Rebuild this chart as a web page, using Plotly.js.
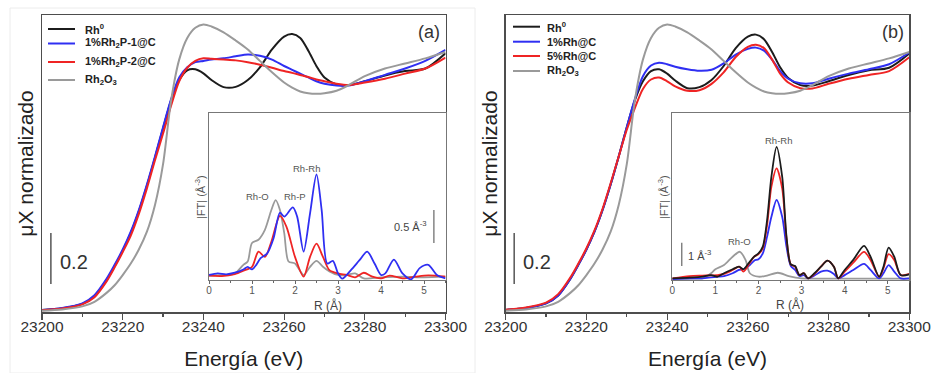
<!DOCTYPE html>
<html><head><meta charset="utf-8">
<script src="https://cdn.plot.ly/plotly-3.0.1.min.js"></script>
<style>body{margin:0;background:#fff}#chart{width:933px;height:373px}</style>
</head><body><div id="chart"></div>
<script>
// ---------- XANES (main panels) ----------
const energy = [23200,23205,23210,23213,23216,23218,23220,23222,23224,23226,23228,23230,23232,23234,23236,23238,23240,23242,23245,23248,23251,23254,23257,23260,23262,23264,23266,23268,23270,23273,23276,23280,23285,23290,23295,23300];
// panel (a)
const rh0A   = [0.008,0.015,0.032,0.062,0.125,0.18,0.24,0.31,0.395,0.495,0.605,0.72,0.83,0.91,0.948,0.952,0.936,0.91,0.882,0.883,0.91,0.96,1.03,1.08,1.09,1.075,1.025,0.965,0.92,0.893,0.89,0.905,0.928,0.945,0.955,1.015];
const rh2p1A = [0.008,0.016,0.034,0.066,0.13,0.185,0.245,0.315,0.40,0.50,0.61,0.725,0.835,0.92,0.96,0.98,0.985,0.99,0.995,1.003,1.01,1.005,0.99,0.965,0.95,0.935,0.92,0.905,0.895,0.888,0.888,0.905,0.93,0.955,0.985,1.028];
const rh2p2A = [0.007,0.014,0.030,0.058,0.12,0.175,0.235,0.30,0.385,0.485,0.595,0.70,0.81,0.905,0.958,0.985,0.995,0.993,0.99,0.987,0.98,0.97,0.958,0.945,0.938,0.93,0.922,0.912,0.905,0.895,0.89,0.90,0.915,0.935,0.955,0.998];
const rh2o3A = [0.005,0.01,0.022,0.04,0.075,0.105,0.145,0.19,0.245,0.315,0.42,0.58,0.83,0.99,1.075,1.115,1.128,1.12,1.097,1.065,1.03,0.985,0.94,0.90,0.88,0.865,0.858,0.856,0.858,0.868,0.89,0.925,0.955,0.975,0.995,1.02];
// panel (b)
const rh0B   = [0.008,0.016,0.034,0.065,0.13,0.185,0.245,0.315,0.40,0.50,0.61,0.725,0.83,0.905,0.945,0.952,0.935,0.908,0.878,0.882,0.91,0.965,1.035,1.08,1.088,1.07,1.02,0.96,0.918,0.89,0.888,0.905,0.93,0.948,0.958,1.014];
const rh1B   = [0.008,0.016,0.034,0.065,0.13,0.185,0.245,0.315,0.40,0.50,0.61,0.725,0.835,0.925,0.967,0.978,0.972,0.962,0.952,0.946,0.95,0.975,1.01,1.032,1.037,1.025,0.99,0.945,0.915,0.897,0.897,0.915,0.935,0.952,0.972,1.018];
const rh5B   = [0.009,0.018,0.037,0.07,0.135,0.19,0.25,0.32,0.405,0.505,0.61,0.715,0.80,0.875,0.912,0.92,0.905,0.885,0.868,0.87,0.895,0.94,1.00,1.04,1.048,1.035,0.99,0.935,0.90,0.878,0.877,0.895,0.915,0.93,0.945,0.999];
const rh2o3B = [0.005,0.01,0.022,0.04,0.075,0.105,0.145,0.19,0.245,0.315,0.42,0.58,0.83,0.99,1.075,1.115,1.128,1.12,1.097,1.065,1.03,0.985,0.94,0.90,0.88,0.865,0.858,0.856,0.858,0.868,0.89,0.925,0.955,0.975,0.995,1.02];

// ---------- EXAFS |FT| insets ----------
// inset (a)
const rBlueA  = [0,0.2,0.4,0.6,0.8,0.9,1.0,1.1,1.2,1.35,1.5,1.65,1.75,1.95,2.05,2.2,2.35,2.5,2.62,2.75,2.88,3.0,3.1,3.3,3.5,3.68,3.85,4.0,4.1,4.3,4.5,4.7,4.9,5.1,5.3,5.5];
const ftBlueA = [0.076,0.10,0.086,0.11,0.16,0.20,0.16,0.23,0.33,0.40,0.63,1.02,0.96,1.10,0.96,0.43,1.01,1.60,1.06,0.25,0.29,0.10,0.02,0.15,0.30,0.43,0.25,0.076,0.10,0.31,0.10,0.01,0.18,0.23,0.076,0.025];
const rRedA   = [0,0.3,0.6,0.8,1.0,1.15,1.3,1.45,1.65,1.8,2.0,2.2,2.35,2.5,2.65,2.8,3.0,3.2,3.4,3.6,3.8,4.0,4.2,4.5,4.8,5.1,5.5];
const ftRedA  = [0.066,0.06,0.09,0.14,0.20,0.43,0.35,0.58,0.97,0.81,0.35,0.05,0.35,0.55,0.35,0.15,0.10,0.076,0.04,0.11,0.05,0.025,0.066,0.025,0.05,0.07,0.05];
const rGreyA  = [0,0.4,0.6,0.8,0.9,1.0,1.15,1.3,1.45,1.55,1.65,1.75,1.85,2.0,2.2,2.35,2.5,2.65,2.8,3.0,3.2,3.4,3.6,4.0,4.5,5.0,5.5];
const ftGreyA = [0.066,0.076,0.10,0.23,0.28,0.56,0.61,0.76,1.06,1.21,1.06,0.71,0.28,0.25,0.076,0.20,0.29,0.20,0.13,0.076,0.076,0.10,0.025,0.04,0.05,0.04,0.05];
// inset (b)
const rB       = [0,0.4,0.7,0.9,1.05,1.2,1.4,1.55,1.65,1.8,1.9,2.0,2.1,2.2,2.3,2.42,2.55,2.65,2.75,2.85,2.95,3.05,3.15,3.3,3.45,3.6,3.75,3.85,4.0,4.2,4.45,4.6,4.8,4.9,5.02,5.15,5.3,5.5];
const ftBlackB = [0.07,0.10,0.14,0.21,0.14,0.29,0.46,0.57,0.46,0.79,1.0,1.14,1.43,2.57,4.43,5.71,4.43,1.86,0.67,0.60,0.21,0.29,0.07,0.29,0.57,0.83,0.57,0.07,0.43,0.86,1.46,1.0,0.14,0.57,1.39,1.0,0.21,0.24];
const ftRedB   = [0.07,0.17,0.19,0.20,0.21,0.26,0.43,0.57,0.36,0.74,1.0,1.11,1.36,2.36,4.0,4.79,3.93,1.79,0.67,0.57,0.21,0.29,0.07,0.26,0.57,0.83,0.57,0.07,0.36,0.74,1.21,0.86,0.14,0.50,1.11,0.86,0.21,0.26];
const ftBlueB  = [0.04,0.07,0.07,0.11,0.14,0.17,0.29,0.43,0.46,0.64,0.83,0.89,1.14,1.86,2.71,3.43,2.71,1.43,0.60,0.43,0.17,0.21,0.07,0.19,0.36,0.40,0.26,0.07,0.21,0.43,0.69,0.43,0.07,0.29,0.64,0.36,0.07,0.07];
const rGreyB   = [0,0.5,0.7,0.9,1.0,1.2,1.4,1.57,1.7,1.8,2.0,2.2,2.45,2.7,3.0,3.5,4.0,5.0,5.5];
const ftGreyB  = [0.04,0.06,0.07,0.29,0.46,0.64,1.0,1.21,0.86,0.29,0.14,0.19,0.31,0.17,0.07,0.06,0.06,0.06,0.06];

// labels
const namesA = ['Rh<sup>0</sup>','1%Rh<sub>2</sub>P-1@C','1%Rh<sub>2</sub>P-2@C','Rh<sub>2</sub>O<sub>3</sub>'];
const namesB = ['Rh<sup>0</sup>','1%Rh@C','5%Rh@C','Rh<sub>2</sub>O<sub>3</sub>'];
const energyTicks = [23200,23220,23240,23260,23280,23300];
const scaleMain = 0.2, scaleInsetA = 0.5, scaleInsetB = 1;

const C = {black:'#1c1c1c', blue:'#2f2ff2', red:'#ef2424', grey:'#9a9a9a'};
const colorsLegend = [C.black, C.blue, C.red, C.grey];
const FONT = 'Liberation Sans, Arial, sans-serif';

function ln(x, y, color, xa, ya, name, w) {
  return {x, y, type:'scatter', mode:'lines', name, showlegend:false,
    xaxis:xa, yaxis:ya, hoverinfo:'skip',
    line:{color, width:w, shape:'spline', smoothing:0.8}};
}
const data = [
  ln(energy, rh0A,   C.black,'x','y',namesA[0],2),
  ln(energy, rh2p1A, C.blue, 'x','y',namesA[1],2),
  ln(energy, rh2p2A, C.red,  'x','y',namesA[2],2),
  ln(energy, rh2o3A, C.grey, 'x','y',namesA[3],2),
  ln(rGreyA, ftGreyA, C.grey,'x2','y2',namesA[3],1.8),
  ln(rRedA,  ftRedA,  C.red, 'x2','y2',namesA[2],1.8),
  ln(rBlueA, ftBlueA, C.blue,'x2','y2',namesA[1],1.8),
  ln(energy, rh0B,   C.black,'x3','y3',namesB[0],2),
  ln(energy, rh1B,   C.blue, 'x3','y3',namesB[1],2),
  ln(energy, rh5B,   C.red,  'x3','y3',namesB[2],2),
  ln(energy, rh2o3B, C.grey, 'x3','y3',namesB[3],2),
  ln(rGreyB, ftGreyB, C.grey,'x4','y4',namesB[3],1.8),
  ln(rB, ftBlueB,  C.blue, 'x4','y4',namesB[1],1.8),
  ln(rB, ftRedB,   C.red,  'x4','y4',namesB[2],1.8),
  ln(rB, ftBlackB, C.black,'x4','y4',namesB[0],1.8)
];

const W = 933, H = 373;
const px = v => v / W, py = v => 1 - v / H;
const mainY = [py(312), py(15)];
const insetY = [py(280), py(113)];

function mainX(domain, anchor) {
  return {domain, anchor, range:[23200,23300], tickvals:energyTicks, tickformat:'d', ticks:'outside', ticklen:6,
    tickwidth:1.2, tickcolor:'#4d4d4d', showline:true, mirror:true, linecolor:'#4d4d4d', linewidth:1.5,
    showgrid:false, zeroline:false, tickfont:{family:FONT, size:15.5, color:'#333'}, ticklabelstandoff:-6,
    minor:{dtick:10, ticks:'outside', ticklen:3, tickcolor:'#4d4d4d', tickwidth:1.2, showgrid:false},
    title:{text:'Energía (eV)', standoff:17, font:{family:FONT, size:21, color:'#222'}}};
}
function mainYax(anchor) {
  return {domain:mainY, anchor, range:[0,1.165], showticklabels:false, ticks:'', showline:true, mirror:true,
    linecolor:'#4d4d4d', linewidth:1.5, showgrid:false, zeroline:false,
    title:{text:'μX normalizado', standoff:1, font:{family:FONT, size:21, color:'#222'}}};
}
function insetX(domain, anchor) {
  return {domain, anchor, range:[0,5.5], dtick:1, tick0:0, ticks:'outside', ticklen:3, tickwidth:1,
    tickcolor:'#666', showline:true, mirror:true, linecolor:'#777', linewidth:1.2, showgrid:false,
    zeroline:false, tickfont:{family:FONT, size:10, color:'#555'}, ticklabelstandoff:-2,
    minor:{dtick:0.5, ticks:'outside', ticklen:2, tickcolor:'#666', showgrid:false}};
}
function insetYax(anchor, top) {
  return {domain:insetY, anchor, range:[0,top], showticklabels:false, ticks:'', showline:true, mirror:true,
    linecolor:'#777', linewidth:1.2, showgrid:false, zeroline:false};
}

const ann = (text, x, y, xref, yref, o) => Object.assign({text, x, y, xref, yref, showarrow:false,
  xanchor:'center', yanchor:'middle', font:{family:FONT, size:9.5, color:'#555'}}, o || {});

// manual legends (key line + bold label)
const shapes = [];
const annotations = [];
function legend(names, rowsY, x0, x1, xText) {
  names.forEach((n, i) => {
    shapes.push({type:'line', xref:'paper', yref:'paper', x0:px(x0), x1:px(x1), y0:py(rowsY[i]), y1:py(rowsY[i]),
      line:{color:colorsLegend[i], width:2}});
    annotations.push(ann(n, px(xText), py(rowsY[i]), 'paper', 'paper',
      {xanchor:'left', font:{family:FONT, size:11, color:'#222', weight:'bold'}}));
  });
}
legend(namesA, [29, 43.5, 62, 80], 48, 75, 83);
legend(namesB, [26.7, 41.7, 56, 71], 513, 540, 545);

shapes.push(
  {type:'line', xref:'x', yref:'y', x0:23202.2, x1:23202.2, y0:0.11, y1:0.11+scaleMain, line:{color:'#555', width:1.5}},
  {type:'line', xref:'x3', yref:'y3', x0:23202.1, x1:23202.1, y0:0.11, y1:0.11+scaleMain, line:{color:'#555', width:1.5}},
  {type:'line', xref:'x2', yref:'y2', x0:5.23, x1:5.23, y0:0.56, y1:0.56+scaleInsetA, line:{color:'#666', width:1.2}},
  {type:'line', xref:'x4', yref:'y4', x0:0.22, x1:0.22, y0:0.6, y1:0.6+scaleInsetB, line:{color:'#666', width:1.2}},
  {type:'rect', xref:'paper', yref:'paper', x0:px(10), x1:px(475), y0:0, y1:py(8), line:{color:'#ececec', width:1}}
);
annotations.push(
  ann('0.2', 23204, 0.196, 'x', 'y', {xanchor:'left', font:{family:FONT, size:20, color:'#333'}}),
  ann('0.2', 23203.7, 0.196, 'x3', 'y3', {xanchor:'left', font:{family:FONT, size:20, color:'#333'}}),
  ann('(a)', px(429), py(32), 'paper', 'paper', {font:{family:FONT, size:18, color:'#333'}}),
  ann('(b)', px(893), py(32), 'paper', 'paper', {font:{family:FONT, size:18, color:'#333'}}),
  ann('Rh-O', 1.12, 1.27, 'x2', 'y2'),
  ann('Rh-P', 1.99, 1.27, 'x2', 'y2'),
  ann('Rh-Rh', 2.26, 1.69, 'x2', 'y2'),
  ann('Rh-Rh', 2.47, 6.0, 'x4', 'y4'),
  ann('Rh-O', 1.57, 1.63, 'x4', 'y4'),
  ann('0.5 Å<sup>-3</sup>', 5.12, 0.82, 'x2', 'y2', {xanchor:'right', font:{family:FONT, size:11, color:'#444'}}),
  ann('1 Å<sup>-3</sup>', 0.32, 1.07, 'x4', 'y4', {xanchor:'left', font:{family:FONT, size:11, color:'#444'}}),
  ann('|FT| (Å<sup>-3</sup>)', px(200), py(197), 'paper', 'paper', {textangle:-90, font:{family:FONT, size:11, color:'#555'}}),
  ann('|FT| (Å<sup>-3</sup>)', px(663), py(197), 'paper', 'paper', {textangle:-90, font:{family:FONT, size:11, color:'#555'}}),
  ann('R (Å)', px(328), py(305), 'paper', 'paper', {font:{family:FONT, size:12, color:'#444'}}),
  ann('R (Å)', px(790), py(304), 'paper', 'paper', {font:{family:FONT, size:12, color:'#444'}})
);

const layout = {
  width:W, height:H, margin:{l:0,r:0,t:0,b:0}, paper_bgcolor:'#fff', plot_bgcolor:'rgba(0,0,0,0)',
  showlegend:false,
  xaxis: mainX([px(42), px(445.5)], 'y'),
  yaxis: mainYax('x'),
  xaxis2: insetX([px(209), px(445.5)], 'y2'),
  yaxis2: insetYax('x2', 2.53),
  xaxis3: mainX([px(505.7), px(909.3)], 'y3'),
  yaxis3: mainYax('x3'),
  xaxis4: insetX([px(672.3), px(909.3)], 'y4'),
  yaxis4: insetYax('x4', 7.16),
  shapes, annotations
};
Plotly.newPlot('chart', data, layout, {displayModeBar:false, staticPlot:true});
</script></body></html>
